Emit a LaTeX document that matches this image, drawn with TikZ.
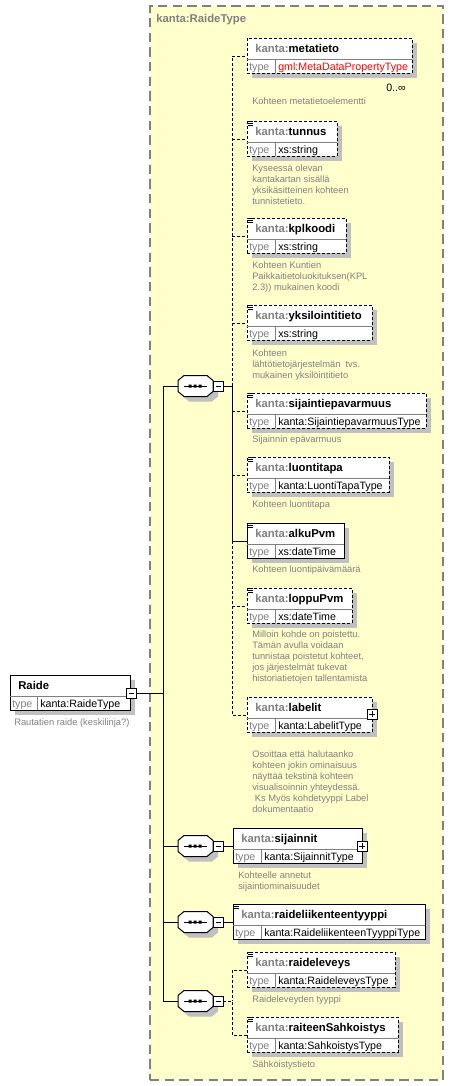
\documentclass[tikz,border=0pt]{standalone}
\usepackage{fontspec}
\setmainfont{Liberation Sans}
\definecolor{bgy}{RGB}{255,255,204}
\definecolor{kgray}{RGB}{128,128,128}
\definecolor{shadowc}{RGB}{192,192,192}
\definecolor{kred}{RGB}{255,0,0}
\tikzset{
  optbox/.style={draw=black, line width=0.75pt, dash pattern=on 2.25pt off 1.5pt, fill=white, inner sep=0pt, outer sep=0pt},
  reqbox/.style={draw=black, line width=0.75pt, fill=white, inner sep=0pt, outer sep=0pt},
  typebox/.style={draw=kgray, fill=bgy, line width=1.1pt, dash pattern=on 7pt off 4pt, inner sep=0pt, outer sep=0pt},
  sepline/.style={draw=kgray, line width=0.75pt},
  hdr/.style={inner sep=0pt, font=\fontsize{8.5}{10}\selectfont\bfseries},
  typ/.style={inner sep=0pt, font=\fontsize{8}{10}\selectfont},
  desc/.style={inner sep=0pt, text=kgray, font=\fontsize{7}{8}\selectfont},
  optline/.style={line width=0.75pt, dash pattern=on 2.25pt off 1.5pt},
  reqline/.style={line width=0.75pt},
  smallbox/.style={draw=black, fill=white, line width=0.75pt, minimum size={10*0.75pt}, inner sep=0pt, outer sep=0pt},
}
% element box: #1 id, #2 left, #3 top, #4 right, #5 box style, #6 name, #7 type, #8 icon
\newcommand\xelem[8]{%
  \fill[shadowc] (#2+5,#3+5) rectangle (#4+5,#3+40);
  \node[#5, anchor=north west, minimum width={(#4-#2)*0.75pt}, minimum height={35*0.75pt}] (#1) at (#2,#3) {};
  \draw[sepline] (#2,#3+21) -- (#4,#3+21) (#2+28,#3+21) -- (#2+28,#3+35);
  \ifnum#8=1 \draw[line width=0.75pt] (#2+1,#3) -- ++(5,0) (#2+1,#3+2) -- ++(5,0) (#2+1,#3+4) -- ++(5,0);\fi
  \node[hdr, anchor=base west] (#1-h) at (#2+8,#3+14) {\textcolor{kgray}{kanta:}#6};
  \node[typ, anchor=base west, text=kgray] (#1-tl) at (#2+2,#3+32) {type};
  \node[typ, anchor=base west] (#1-tv) at (#2+31,#3+32) {#7};
  \coordinate (#1-in) at (#2,#3+18);
}
% description: #1 id, #2 x, #3 first baseline, #4 lines
\newcommand\xdesc[4]{%
  \foreach \t [count=\i from 0] in {#4} {\node[desc, anchor=base west] (#1-d\i) at (#2,#3+11*\i) {\t};}
}
% sequence compositor: #1 id, #2 centre y
\newcommand\xseq[2]{%
  \begin{scope}[shift={(5,5)}]
    \fill[shadowc] (184,#2-10.5) -- (207,#2-10.5) -- (213,#2-5.5) -- (213,#2+5.5) -- (207,#2+10.5) -- (184,#2+10.5) -- (178,#2+5.5) -- (178,#2-5.5) -- cycle;
  \end{scope}
  \node[inner sep=0pt, outer sep=0pt, minimum width={35*0.75pt}, minimum height={21*0.75pt}] (#1) at (195.5,#2) {};
  \draw[line width=0.75pt, fill=white] (184,#2-10.5) -- (207,#2-10.5) -- (213,#2-5.5) -- (213,#2+5.5) -- (207,#2+10.5) -- (184,#2+10.5) -- (178,#2+5.5) -- (178,#2-5.5) -- cycle;
  \draw[line width=0.75pt] (184,#2) -- (207,#2);
  \fill (188.5,#2-1.5) rectangle (191.5,#2+1.5) (193.5,#2-1.5) rectangle (196.5,#2+1.5) (198.5,#2-1.5) rectangle (201.5,#2+1.5);
  \node[smallbox] (#1-m) at (218,#2) {};
  \draw[line width=0.75pt] (215.5,#2) -- (220.5,#2);
}
\newcommand\xminus[3]{%
  \node[smallbox] (#1) at (#2,#3) {};
  \draw[line width=0.75pt] (#2-2.5,#3) -- (#2+2.5,#3);
}
\newcommand\xplus[3]{%
  \node[smallbox] (#1) at (#2,#3) {};
  \draw[line width=0.75pt] (#2-3,#3) -- (#2+3,#3) (#2,#3-3) -- (#2,#3+3);
}
\begin{document}
\begin{tikzpicture}[x=0.75pt, y=-0.75pt]
\useasboundingbox (0,0) rectangle (454,1086);
% type container
\node[typebox, anchor=north west, minimum width={293*0.75pt}, minimum height={1074*0.75pt}] (rtype) at (150,6) {};
\node[hdr, text=kgray, anchor=base west] (rtype-t) at (156,22) {kanta:RaideType};

% root element Raide
\fill[shadowc] (15,680) rectangle (135,715);
\node[reqbox, anchor=north west, minimum width={120*0.75pt}, minimum height={35*0.75pt}] (raide) at (10,675) {};
\draw[sepline] (10,696) -- (130,696) (37,696) -- (37,710);
\node[hdr, anchor=base west] (raide-h) at (18,689) {Raide};
\node[typ, anchor=base west, text=kgray] (raide-tl) at (12,707) {type};
\node[typ, anchor=base west] (raide-tv) at (40,707) {kanta:RaideType};
\xminus{raide-m}{131}{693}
\xdesc{raide}{14}{725}{{Rautatien raide (keskilinja?)}}

% sequences
\xseq{s1}{386}
\xseq{s2}{846}
\xseq{s3}{922}
\xseq{s4}{1001}

% elements of first sequence
\xelem{metatieto}{247}{38}{412}{optbox}{metatieto}{\textcolor{kred}{gml:MetaDataPropertyType}}{0}
\node[typ, anchor=base east] (metatieto-mult) at (406,91) {0..∞};
\xdesc{metatieto}{252}{104}{{Kohteen metatietoelementti}}

\xelem{tunnus}{247}{121}{337}{optbox}{tunnus}{xs:string}{1}
\xdesc{tunnus}{252}{171}{{Kyseessä olevan},{kantakartan sisällä},{yksikäsitteinen kohteen},{tunnistetieto.}}

\xelem{kplkoodi}{247}{218}{346}{optbox}{kplkoodi}{xs:string}{1}
\xdesc{kplkoodi}{252}{268}{{Kohteen Kuntien},{Paikkaitietoluokituksen(KPL},{2.3)) mukainen koodi}}

\xelem{yksilointitieto}{247}{305}{372}{optbox}{yksilointitieto}{xs:string}{1}
\xdesc{yksilointitieto}{252}{356}{{Kohteen},{lähtötietojärjestelmän\ \ tvs.},{mukainen yksilöintitieto}}

\xelem{sijaintiepavarmuus}{247}{393}{426}{optbox}{sijaintiepavarmuus}{kanta:SijaintiepavarmuusType}{1}
\xdesc{sijaintiepavarmuus}{252}{442}{{Sijainnin epävarmuus}}

\xelem{luontitapa}{247}{457}{389}{optbox}{luontitapa}{kanta:LuontiTapaType}{1}
\xdesc{luontitapa}{252}{507}{{Kohteen luontitapa}}

\xelem{alkuPvm}{247}{523}{344}{reqbox}{alkuPvm}{xs:dateTime}{1}
\xdesc{alkuPvm}{252}{572}{{Kohteen luontipäivämäärä}}

\xelem{loppuPvm}{247}{588}{352}{optbox}{loppuPvm}{xs:dateTime}{1}
\xdesc{loppuPvm}{252}{637}{{Milloin kohde on poistettu.},{Tämän avulla voidaan},{tunnistaa poistetut kohteet,},{jos järjestelmät tukevat},{historiatietojen tallentamista}}

\xelem{labelit}{247}{697}{372}{optbox}{labelit}{kanta:LabelitType}{0}
\xplus{labelit-p}{372}{714}
\xdesc{labelit}{252}{757}{{Osoittaa että halutaanko},{kohteen jokin ominaisuus},{näyttää tekstinä kohteen},{visualisoinnin yhteydessä.},{\ Ks Myös kohdetyyppi Label},{dokumentaatio}}

% second sequence
\xelem{sijainnit}{233}{828}{362}{reqbox}{sijainnit}{kanta:SijainnitType}{0}
\xplus{sijainnit-p}{362}{846}
\xdesc{sijainnit}{238}{878}{{Kohteelle annetut},{sijaintiominaisuudet}}

% third sequence
\xelem{raideliik}{233}{904}{425}{reqbox}{raideliikenteentyyppi}{kanta:RaideliikenteenTyyppiType}{1}

% fourth sequence
\xelem{raideleveys}{247}{952}{395}{optbox}{raideleveys}{kanta:RaideleveysType}{1}
\xdesc{raideleveys}{252}{1002}{{Raideleveyden tyyppi}}
\xelem{raiteenSahkoistys}{247}{1017}{398}{optbox}{raiteenSahkoistys}{kanta:SahkoistysType}{1}
\xdesc{raiteenSahkoistys}{252}{1067}{{Sähköistystieto}}

% connectors: root to bus
\coordinate (b0) at (163,693);
\coordinate (b1) at (163,386);
\coordinate (b2) at (163,846);
\coordinate (b3) at (163,922);
\coordinate (b4) at (163,1001);
\draw[reqline] (raide-m.east) -- (b0);
\draw[reqline] (b1) -- (b4);
\draw[reqline] (b1) -- (s1.west);
\draw[reqline] (b2) -- (s2.west);
\draw[reqline] (b3) -- (s3.west);
\draw[reqline] (b4) -- (s4.west);

% first sequence children
\coordinate (s1-o) at (232,386);
\draw[reqline] (s1-m.east) -- (s1-o);
\draw[optline] (s1-o) |- (metatieto-in);
\foreach \e in {tunnus,kplkoodi,yksilointitieto,sijaintiepavarmuus,luontitapa,loppuPvm}
  {\draw[optline] (\e-in -| s1-o) -- (\e-in);}
\draw[reqline] (s1-o) |- (alkuPvm-in);
\draw[optline] (alkuPvm-in -| s1-o) |- (labelit-in);

% second and third
\draw[reqline] (s2-m.east) -- (sijainnit-in);
\draw[reqline] (s3-m.east) -- (raideliik-in);

% fourth
\coordinate (s4-o) at (232,1001);
\draw[optline] (s4-m.east) -- (s4-o);
\draw[optline] (raideleveys-in) -| (s4-o);
\draw[optline] (raiteenSahkoistys-in) -| (s4-o);
\end{tikzpicture}
\end{document}
